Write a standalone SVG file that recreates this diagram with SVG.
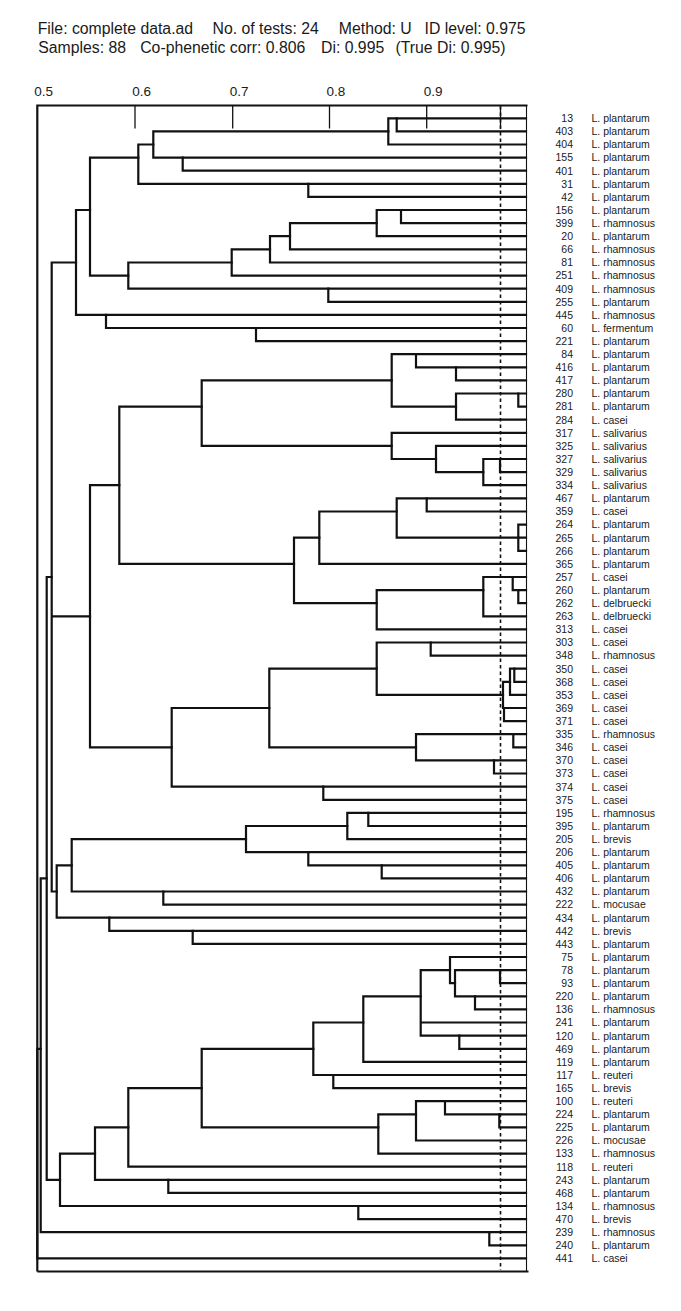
<svg xmlns="http://www.w3.org/2000/svg" width="681" height="1311" viewBox="0 0 681 1311">
<style>
.t{font-family:"Liberation Sans",Arial,Helvetica,sans-serif;fill:#1a1a1a}
.h{font-size:15.8px}
.ax{font-size:13.5px}
.n{font-size:10.5px;text-anchor:end}
.s{font-size:10.5px}
.c path{fill:none;stroke:#111;stroke-width:2.2;stroke-linejoin:miter;stroke-linecap:square}
.tick{stroke:#111;stroke-width:1.3}
.frame{fill:none;stroke:#111;stroke-width:2.2}
.dash{stroke:#111;stroke-width:1.6;stroke-dasharray:3.5 3}
</style>
<rect width="681" height="1311" fill="#fff"/>
<g id="header">
<text class="t h" x="37.7" y="34.3">File: complete data.ad</text>
<text class="t h" x="212.5" y="34.3">No. of tests: 24</text>
<text class="t h" x="338.8" y="34.3">Method: U</text>
<text class="t h" x="424.6" y="34.3">ID level: 0.975</text>
<text class="t h" x="38.3" y="53.3">Samples: 88</text>
<text class="t h" x="140.2" y="53.3">Co-phenetic corr: 0.806</text>
<text class="t h" x="321" y="53.3">Di: 0.995</text>
<text class="t h" x="395.5" y="53.3">(True Di: 0.995)</text>
</g>
<g id="axis">
<text class="t ax" x="34.3" y="95.7">0.5</text>
<text class="t ax" x="132.3" y="95.7">0.6</text>
<text class="t ax" x="229.8" y="95.7">0.7</text>
<text class="t ax" x="326.6" y="95.7">0.8</text>
<text class="t ax" x="423.8" y="95.7">0.9</text>
<line class="tick" x1="135" y1="105" x2="135" y2="128.5"/>
<line class="tick" x1="232.7" y1="105" x2="232.7" y2="128.5"/>
<line class="tick" x1="329.5" y1="105" x2="329.5" y2="128.5"/>
<line class="tick" x1="426.7" y1="105" x2="426.7" y2="128.5"/>
<line class="tick" x1="500.5" y1="105" x2="500.5" y2="128.5"/>
</g>
<g id="frame">
<path class="frame" d="M37.3 1271.5 V105.5 H527.5 M37.3 1271.5 H528.5"/>
<line x1="526.5" y1="105" x2="526.5" y2="1271" stroke="#111" stroke-width="1.1"/>
<line class="dash" x1="500.5" y1="106" x2="500.5" y2="1270"/>
</g>
<g id="connectors" class="c">
<path d="M526 118.3H396.7V131.4H526"/>
<path d="M396.7 118.3H388.3V144.5H526"/>
<path d="M526 157.6H182.7V170.7H526"/>
<path d="M388.3 131.4H153.3V157.6H182.7"/>
<path d="M526 183.8H308.3V196.9H526"/>
<path d="M153.3 144.5H138.3V183.8H308.3"/>
<path d="M526 210H401V223.1H526"/>
<path d="M401 210H376.7V236.2H526"/>
<path d="M376.7 223.1H290V249.4H526"/>
<path d="M290 236.2H270V262.5H526"/>
<path d="M270 249.4H231.7V275.6H526"/>
<path d="M526 288.7H328.3V301.8H526"/>
<path d="M231.7 262.5H128.3V288.7H328.3"/>
<path d="M138.3 157.6H90V275.6H128.3"/>
<path d="M526 328H256V341.1H526"/>
<path d="M526 314.9H106V328H256"/>
<path d="M90 210H76V314.9H106"/>
<path d="M526 367.3H456V380.4H526"/>
<path d="M526 354.2H416V367.3H456"/>
<path d="M526 393.5H518.3V406.6H526"/>
<path d="M518.3 393.5H456V419.7H526"/>
<path d="M416 354.2H391.7V406.6H456"/>
<path d="M526 459H500V472.1H526"/>
<path d="M500 459H483.3V485.2H526"/>
<path d="M526 445.9H436V472.1H483.3"/>
<path d="M526 432.8H391.7V459H436"/>
<path d="M391.7 380.4H201.7V445.9H391.7"/>
<path d="M526 498.3H426.7V511.5H526"/>
<path d="M526 524.6H518.3V550.8H526M526 537.7H518.3"/>
<path d="M426.7 498.3H396.7V537.7H518.3"/>
<path d="M396.7 511.5H319.3V563.9H526"/>
<path d="M526 590.1H518.3V603.2H526"/>
<path d="M526 577H512.7V590.1H518.3"/>
<path d="M512.7 577H483.3V616.3H526"/>
<path d="M483.3 590.1H376.7V629.4H526"/>
<path d="M319.3 537.7H294V603.2H376.7"/>
<path d="M201.7 406.6H119.3V563.9H294"/>
<path d="M526 642.5H430.7V655.6H526"/>
<path d="M526 668.7H514.3V681.8H526"/>
<path d="M514.3 668.7H510V694.9H526"/>
<path d="M526 708H504V721.1H526"/>
<path d="M510 681.8H503V708H504"/>
<path d="M430.7 642.5H376.7V694.9H503"/>
<path d="M526 734.2H513.3V747.3H526"/>
<path d="M526 760.4H494V773.5H526"/>
<path d="M513.3 734.2H416V760.4H494"/>
<path d="M376.7 668.7H269.3V747.3H416"/>
<path d="M526 786.7H323.3V799.8H526"/>
<path d="M269.3 708H171.7V786.7H323.3"/>
<path d="M119.3 485.2H90V747.3H171.7"/>
<path d="M526 812.9H368.3V826H526"/>
<path d="M368.3 812.9H347.3V839.1H526"/>
<path d="M526 865.3H381.7V878.4H526"/>
<path d="M526 852.2H308.3V865.3H381.7"/>
<path d="M347.3 826H246V852.2H308.3"/>
<path d="M526 891.5H163.3V904.6H526"/>
<path d="M246 839.1H71.7V891.5H163.3"/>
<path d="M526 930.8H192.7V943.9H526"/>
<path d="M526 917.7H109.3V930.8H192.7"/>
<path d="M71.7 865.3H56.7V917.7H109.3"/>
<path d="M76 262.5H51.7V891.5H56.7M90 616.3H51.7"/>
<path d="M526 970.1H500V983.2H526"/>
<path d="M526 996.3H475V1009.4H526"/>
<path d="M500 970.1H455V996.3H475"/>
<path d="M526 957H450V983.2H455"/>
<path d="M526 1035.7H459.3V1048.8H526"/>
<path d="M450 970.1H420.7V1035.7H459.3M526 1022.5H420.7"/>
<path d="M420.7 996.3H363.3V1061.9H526"/>
<path d="M526 1075H333.3V1088.1H526"/>
<path d="M363.3 1022.5H313.3V1075H333.3"/>
<path d="M526 1114.3H499.3V1127.4H526"/>
<path d="M526 1101.2H445V1114.3H499.3"/>
<path d="M445 1101.2H416V1140.5H526"/>
<path d="M416 1114.3H378.3V1153.6H526"/>
<path d="M313.3 1048.8H201.7V1127.4H378.3"/>
<path d="M201.7 1088.1H128.3V1166.7H526"/>
<path d="M526 1179.8H168.3V1192.9H526"/>
<path d="M128.3 1127.4H95V1179.8H168.3"/>
<path d="M526 1206H358.3V1219.1H526"/>
<path d="M95 1153.6H60V1206H358.3"/>
<path d="M51.7 577H46.7V1179.8H60"/>
<path d="M526 1232.2H489.3V1245.3H526"/>
<path d="M46.7 878.4H40.7V1232.2H489.3"/>
<path d="M40.7 1048.8H37.3V1258.4H526"/>
</g>
<g id="leaf-0"><text class="t n" x="573" y="122.1">13</text><text class="t s" x="591.5" y="122.1">L. plantarum</text></g>
<g id="leaf-1"><text class="t n" x="573" y="135.2">403</text><text class="t s" x="591.5" y="135.2">L. plantarum</text></g>
<g id="leaf-2"><text class="t n" x="573" y="148.3">404</text><text class="t s" x="591.5" y="148.3">L. plantarum</text></g>
<g id="leaf-3"><text class="t n" x="573" y="161.4">155</text><text class="t s" x="591.5" y="161.4">L. plantarum</text></g>
<g id="leaf-4"><text class="t n" x="573" y="174.5">401</text><text class="t s" x="591.5" y="174.5">L. plantarum</text></g>
<g id="leaf-5"><text class="t n" x="573" y="187.6">31</text><text class="t s" x="591.5" y="187.6">L. plantarum</text></g>
<g id="leaf-6"><text class="t n" x="573" y="200.7">42</text><text class="t s" x="591.5" y="200.7">L. plantarum</text></g>
<g id="leaf-7"><text class="t n" x="573" y="213.8">156</text><text class="t s" x="591.5" y="213.8">L. plantarum</text></g>
<g id="leaf-8"><text class="t n" x="573" y="226.9">399</text><text class="t s" x="591.5" y="226.9">L. rhamnosus</text></g>
<g id="leaf-9"><text class="t n" x="573" y="240.0">20</text><text class="t s" x="591.5" y="240.0">L. plantarum</text></g>
<g id="leaf-10"><text class="t n" x="573" y="253.2">66</text><text class="t s" x="591.5" y="253.2">L. rhamnosus</text></g>
<g id="leaf-11"><text class="t n" x="573" y="266.3">81</text><text class="t s" x="591.5" y="266.3">L. rhamnosus</text></g>
<g id="leaf-12"><text class="t n" x="573" y="279.4">251</text><text class="t s" x="591.5" y="279.4">L. rhamnosus</text></g>
<g id="leaf-13"><text class="t n" x="573" y="292.5">409</text><text class="t s" x="591.5" y="292.5">L. rhamnosus</text></g>
<g id="leaf-14"><text class="t n" x="573" y="305.6">255</text><text class="t s" x="591.5" y="305.6">L. plantarum</text></g>
<g id="leaf-15"><text class="t n" x="573" y="318.7">445</text><text class="t s" x="591.5" y="318.7">L. rhamnosus</text></g>
<g id="leaf-16"><text class="t n" x="573" y="331.8">60</text><text class="t s" x="591.5" y="331.8">L. fermentum</text></g>
<g id="leaf-17"><text class="t n" x="573" y="344.9">221</text><text class="t s" x="591.5" y="344.9">L. plantarum</text></g>
<g id="leaf-18"><text class="t n" x="573" y="358.0">84</text><text class="t s" x="591.5" y="358.0">L. plantarum</text></g>
<g id="leaf-19"><text class="t n" x="573" y="371.1">416</text><text class="t s" x="591.5" y="371.1">L. plantarum</text></g>
<g id="leaf-20"><text class="t n" x="573" y="384.2">417</text><text class="t s" x="591.5" y="384.2">L. plantarum</text></g>
<g id="leaf-21"><text class="t n" x="573" y="397.3">280</text><text class="t s" x="591.5" y="397.3">L. plantarum</text></g>
<g id="leaf-22"><text class="t n" x="573" y="410.4">281</text><text class="t s" x="591.5" y="410.4">L. plantarum</text></g>
<g id="leaf-23"><text class="t n" x="573" y="423.5">284</text><text class="t s" x="591.5" y="423.5">L. casei</text></g>
<g id="leaf-24"><text class="t n" x="573" y="436.6">317</text><text class="t s" x="591.5" y="436.6">L. salivarius</text></g>
<g id="leaf-25"><text class="t n" x="573" y="449.7">325</text><text class="t s" x="591.5" y="449.7">L. salivarius</text></g>
<g id="leaf-26"><text class="t n" x="573" y="462.8">327</text><text class="t s" x="591.5" y="462.8">L. salivarius</text></g>
<g id="leaf-27"><text class="t n" x="573" y="475.9">329</text><text class="t s" x="591.5" y="475.9">L. salivarius</text></g>
<g id="leaf-28"><text class="t n" x="573" y="489.0">334</text><text class="t s" x="591.5" y="489.0">L. salivarius</text></g>
<g id="leaf-29"><text class="t n" x="573" y="502.1">467</text><text class="t s" x="591.5" y="502.1">L. plantarum</text></g>
<g id="leaf-30"><text class="t n" x="573" y="515.3">359</text><text class="t s" x="591.5" y="515.3">L. casei</text></g>
<g id="leaf-31"><text class="t n" x="573" y="528.4">264</text><text class="t s" x="591.5" y="528.4">L. plantarum</text></g>
<g id="leaf-32"><text class="t n" x="573" y="541.5">265</text><text class="t s" x="591.5" y="541.5">L. plantarum</text></g>
<g id="leaf-33"><text class="t n" x="573" y="554.6">266</text><text class="t s" x="591.5" y="554.6">L. plantarum</text></g>
<g id="leaf-34"><text class="t n" x="573" y="567.7">365</text><text class="t s" x="591.5" y="567.7">L. plantarum</text></g>
<g id="leaf-35"><text class="t n" x="573" y="580.8">257</text><text class="t s" x="591.5" y="580.8">L. casei</text></g>
<g id="leaf-36"><text class="t n" x="573" y="593.9">260</text><text class="t s" x="591.5" y="593.9">L. plantarum</text></g>
<g id="leaf-37"><text class="t n" x="573" y="607.0">262</text><text class="t s" x="591.5" y="607.0">L. delbruecki</text></g>
<g id="leaf-38"><text class="t n" x="573" y="620.1">263</text><text class="t s" x="591.5" y="620.1">L. delbruecki</text></g>
<g id="leaf-39"><text class="t n" x="573" y="633.2">313</text><text class="t s" x="591.5" y="633.2">L. casei</text></g>
<g id="leaf-40"><text class="t n" x="573" y="646.3">303</text><text class="t s" x="591.5" y="646.3">L. casei</text></g>
<g id="leaf-41"><text class="t n" x="573" y="659.4">348</text><text class="t s" x="591.5" y="659.4">L. rhamnosus</text></g>
<g id="leaf-42"><text class="t n" x="573" y="672.5">350</text><text class="t s" x="591.5" y="672.5">L. casei</text></g>
<g id="leaf-43"><text class="t n" x="573" y="685.6">368</text><text class="t s" x="591.5" y="685.6">L. casei</text></g>
<g id="leaf-44"><text class="t n" x="573" y="698.7">353</text><text class="t s" x="591.5" y="698.7">L. casei</text></g>
<g id="leaf-45"><text class="t n" x="573" y="711.8">369</text><text class="t s" x="591.5" y="711.8">L. casei</text></g>
<g id="leaf-46"><text class="t n" x="573" y="724.9">371</text><text class="t s" x="591.5" y="724.9">L. casei</text></g>
<g id="leaf-47"><text class="t n" x="573" y="738.0">335</text><text class="t s" x="591.5" y="738.0">L. rhamnosus</text></g>
<g id="leaf-48"><text class="t n" x="573" y="751.1">346</text><text class="t s" x="591.5" y="751.1">L. casei</text></g>
<g id="leaf-49"><text class="t n" x="573" y="764.2">370</text><text class="t s" x="591.5" y="764.2">L. casei</text></g>
<g id="leaf-50"><text class="t n" x="573" y="777.3">373</text><text class="t s" x="591.5" y="777.3">L. casei</text></g>
<g id="leaf-51"><text class="t n" x="573" y="790.5">374</text><text class="t s" x="591.5" y="790.5">L. casei</text></g>
<g id="leaf-52"><text class="t n" x="573" y="803.6">375</text><text class="t s" x="591.5" y="803.6">L. casei</text></g>
<g id="leaf-53"><text class="t n" x="573" y="816.7">195</text><text class="t s" x="591.5" y="816.7">L. rhamnosus</text></g>
<g id="leaf-54"><text class="t n" x="573" y="829.8">395</text><text class="t s" x="591.5" y="829.8">L. plantarum</text></g>
<g id="leaf-55"><text class="t n" x="573" y="842.9">205</text><text class="t s" x="591.5" y="842.9">L. brevis</text></g>
<g id="leaf-56"><text class="t n" x="573" y="856.0">206</text><text class="t s" x="591.5" y="856.0">L. plantarum</text></g>
<g id="leaf-57"><text class="t n" x="573" y="869.1">405</text><text class="t s" x="591.5" y="869.1">L. plantarum</text></g>
<g id="leaf-58"><text class="t n" x="573" y="882.2">406</text><text class="t s" x="591.5" y="882.2">L. plantarum</text></g>
<g id="leaf-59"><text class="t n" x="573" y="895.3">432</text><text class="t s" x="591.5" y="895.3">L. plantarum</text></g>
<g id="leaf-60"><text class="t n" x="573" y="908.4">222</text><text class="t s" x="591.5" y="908.4">L. mocusae</text></g>
<g id="leaf-61"><text class="t n" x="573" y="921.5">434</text><text class="t s" x="591.5" y="921.5">L. plantarum</text></g>
<g id="leaf-62"><text class="t n" x="573" y="934.6">442</text><text class="t s" x="591.5" y="934.6">L. brevis</text></g>
<g id="leaf-63"><text class="t n" x="573" y="947.7">443</text><text class="t s" x="591.5" y="947.7">L. plantarum</text></g>
<g id="leaf-64"><text class="t n" x="573" y="960.8">75</text><text class="t s" x="591.5" y="960.8">L. plantarum</text></g>
<g id="leaf-65"><text class="t n" x="573" y="973.9">78</text><text class="t s" x="591.5" y="973.9">L. plantarum</text></g>
<g id="leaf-66"><text class="t n" x="573" y="987.0">93</text><text class="t s" x="591.5" y="987.0">L. plantarum</text></g>
<g id="leaf-67"><text class="t n" x="573" y="1000.1">220</text><text class="t s" x="591.5" y="1000.1">L. plantarum</text></g>
<g id="leaf-68"><text class="t n" x="573" y="1013.2">136</text><text class="t s" x="591.5" y="1013.2">L. rhamnosus</text></g>
<g id="leaf-69"><text class="t n" x="573" y="1026.3">241</text><text class="t s" x="591.5" y="1026.3">L. plantarum</text></g>
<g id="leaf-70"><text class="t n" x="573" y="1039.5">120</text><text class="t s" x="591.5" y="1039.5">L. plantarum</text></g>
<g id="leaf-71"><text class="t n" x="573" y="1052.6">469</text><text class="t s" x="591.5" y="1052.6">L. plantarum</text></g>
<g id="leaf-72"><text class="t n" x="573" y="1065.7">119</text><text class="t s" x="591.5" y="1065.7">L. plantarum</text></g>
<g id="leaf-73"><text class="t n" x="573" y="1078.8">117</text><text class="t s" x="591.5" y="1078.8">L. reuteri</text></g>
<g id="leaf-74"><text class="t n" x="573" y="1091.9">165</text><text class="t s" x="591.5" y="1091.9">L. brevis</text></g>
<g id="leaf-75"><text class="t n" x="573" y="1105.0">100</text><text class="t s" x="591.5" y="1105.0">L. reuteri</text></g>
<g id="leaf-76"><text class="t n" x="573" y="1118.1">224</text><text class="t s" x="591.5" y="1118.1">L. plantarum</text></g>
<g id="leaf-77"><text class="t n" x="573" y="1131.2">225</text><text class="t s" x="591.5" y="1131.2">L. plantarum</text></g>
<g id="leaf-78"><text class="t n" x="573" y="1144.3">226</text><text class="t s" x="591.5" y="1144.3">L. mocusae</text></g>
<g id="leaf-79"><text class="t n" x="573" y="1157.4">133</text><text class="t s" x="591.5" y="1157.4">L. rhamnosus</text></g>
<g id="leaf-80"><text class="t n" x="573" y="1170.5">118</text><text class="t s" x="591.5" y="1170.5">L. reuteri</text></g>
<g id="leaf-81"><text class="t n" x="573" y="1183.6">243</text><text class="t s" x="591.5" y="1183.6">L. plantarum</text></g>
<g id="leaf-82"><text class="t n" x="573" y="1196.7">468</text><text class="t s" x="591.5" y="1196.7">L. plantarum</text></g>
<g id="leaf-83"><text class="t n" x="573" y="1209.8">134</text><text class="t s" x="591.5" y="1209.8">L. rhamnosus</text></g>
<g id="leaf-84"><text class="t n" x="573" y="1222.9">470</text><text class="t s" x="591.5" y="1222.9">L. brevis</text></g>
<g id="leaf-85"><text class="t n" x="573" y="1236.0">239</text><text class="t s" x="591.5" y="1236.0">L. rhamnosus</text></g>
<g id="leaf-86"><text class="t n" x="573" y="1249.1">240</text><text class="t s" x="591.5" y="1249.1">L. plantarum</text></g>
<g id="leaf-87"><text class="t n" x="573" y="1262.2">441</text><text class="t s" x="591.5" y="1262.2">L. casei</text></g>
</svg>
